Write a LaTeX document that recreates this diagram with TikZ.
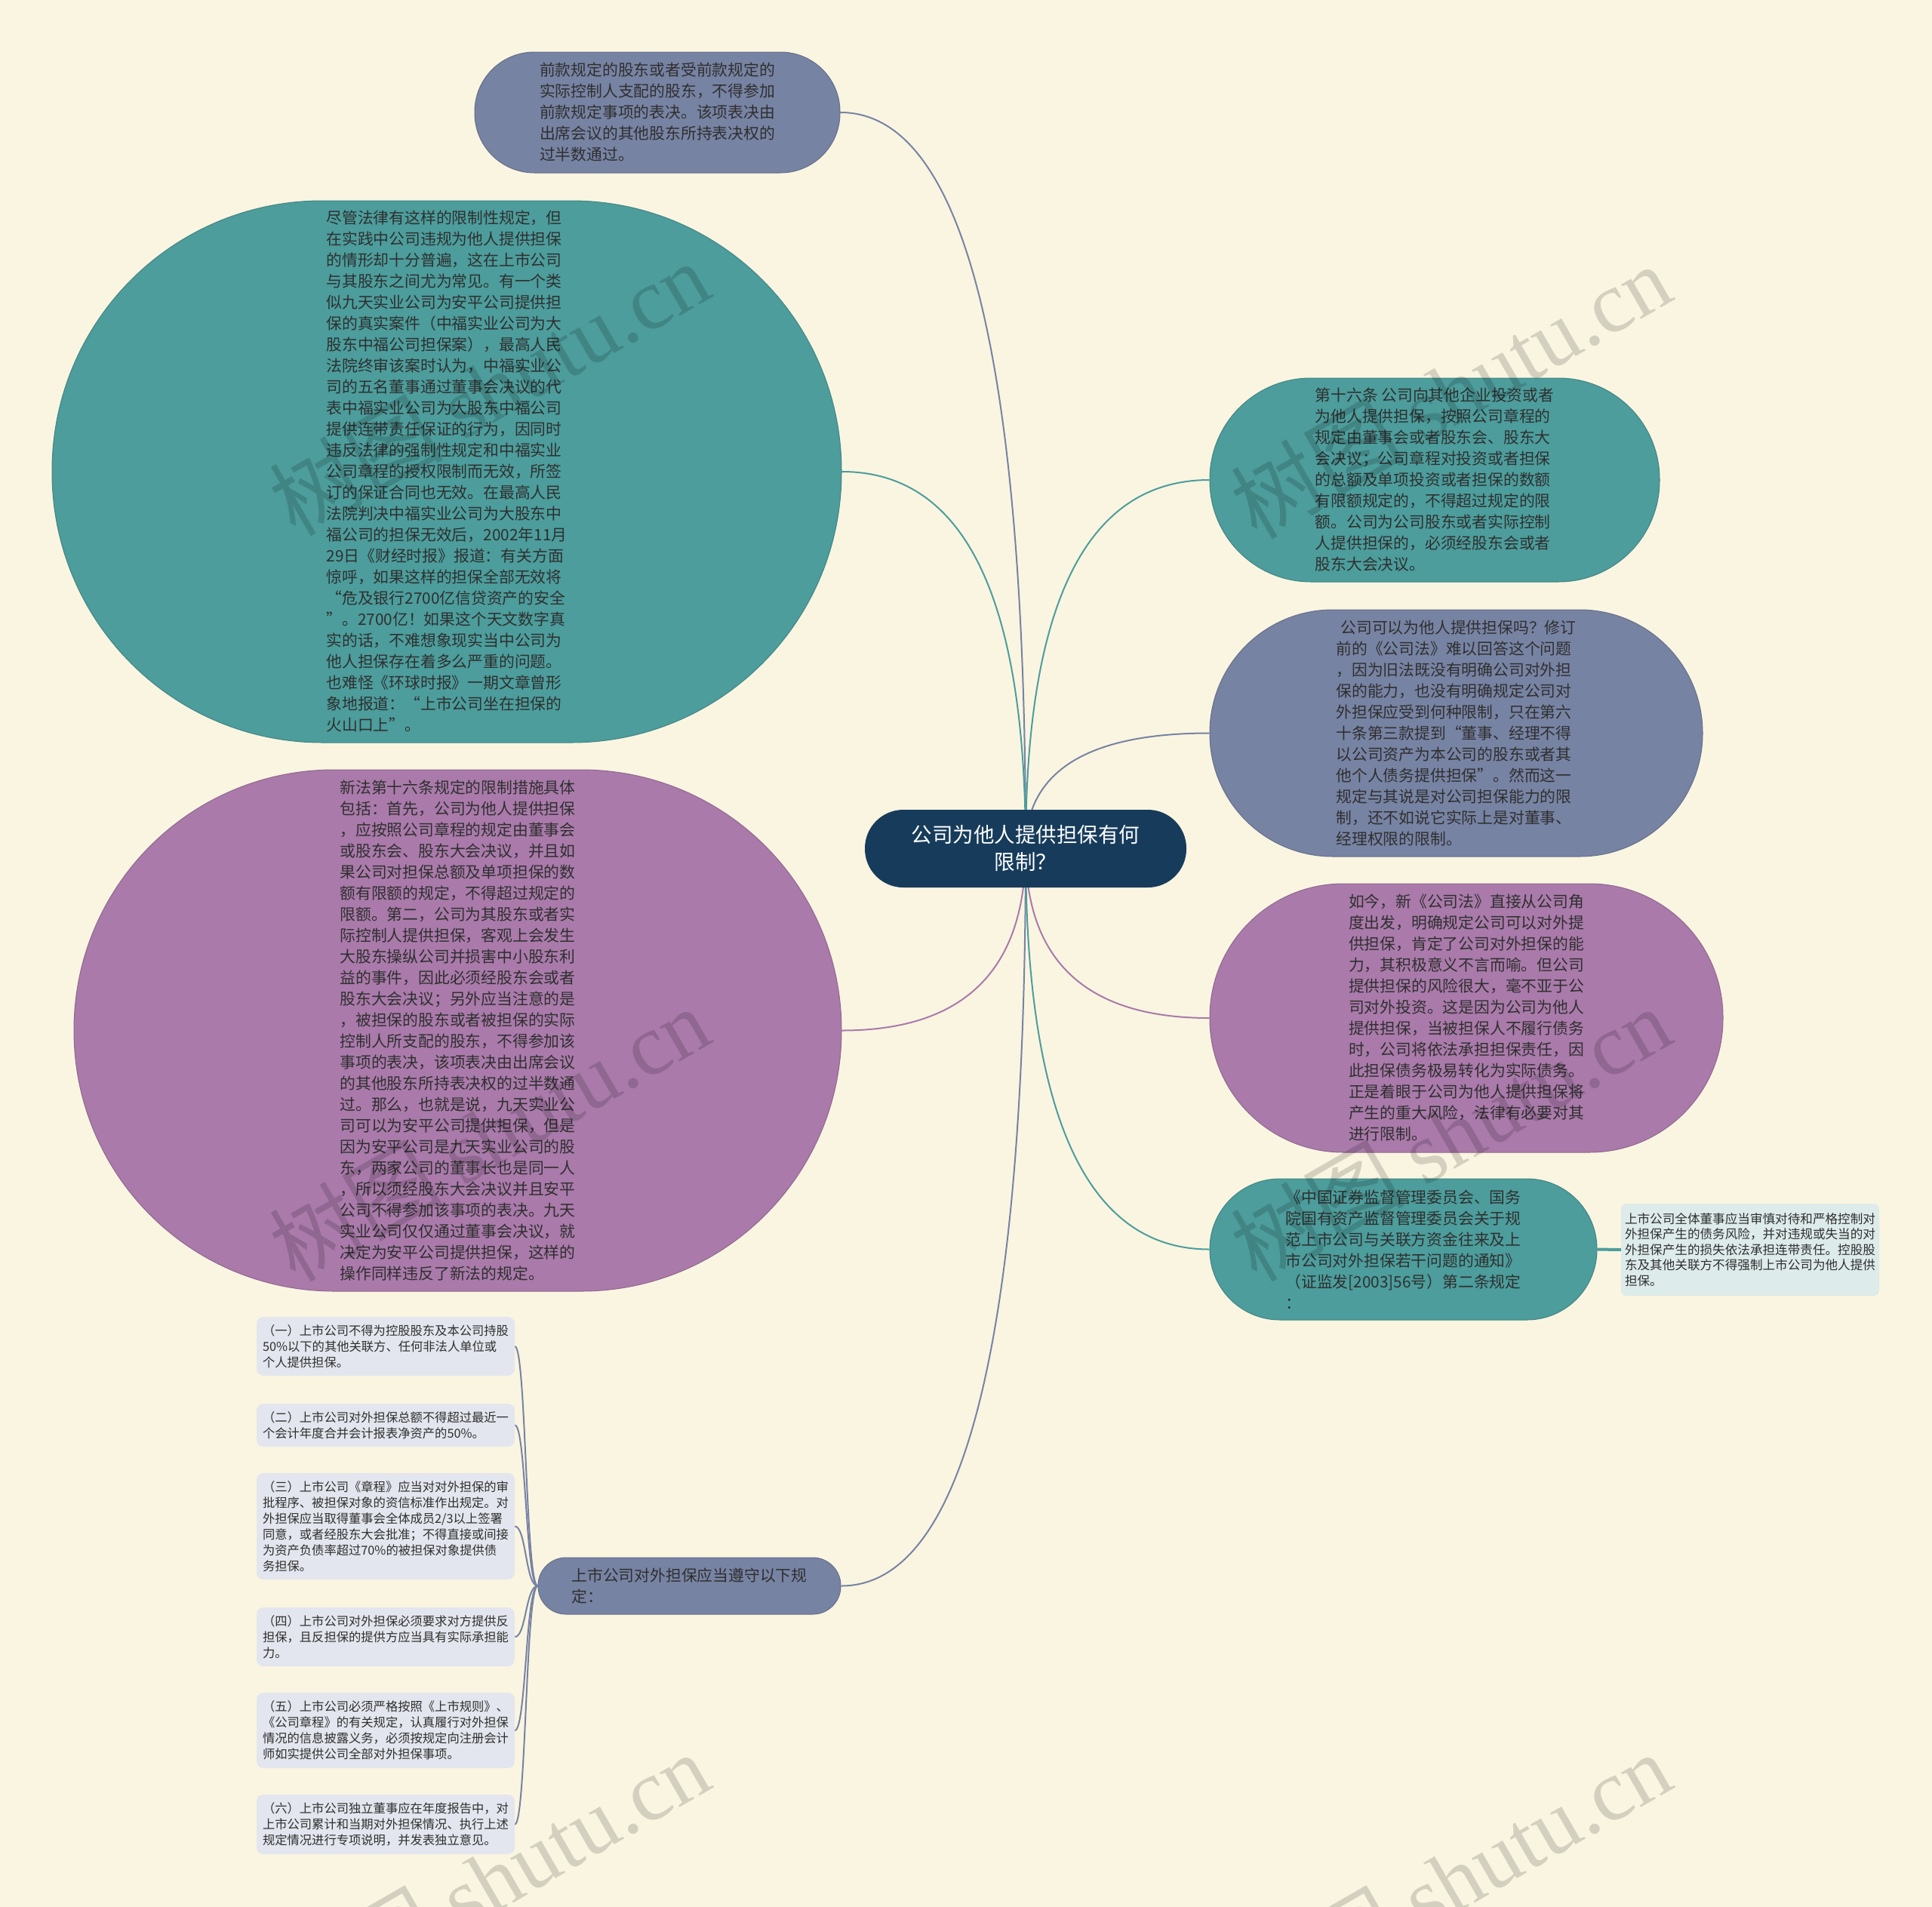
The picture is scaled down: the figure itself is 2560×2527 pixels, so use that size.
\documentclass[tikz,border=0pt]{standalone}
\usepackage{fontspec}
\setmainfont{Noto Sans CJK SC}
\newfontfamily\wmserif{Liberation Serif}
\usetikzlibrary{calc}
\pgfdeclarelayer{back}
\pgfsetlayers{back,main}
\definecolor{bgc}{HTML}{FAF5E1}
\definecolor{ctrc}{HTML}{173C5B}
\definecolor{tealc}{HTML}{4C9D9C}
\definecolor{slatec}{HTML}{7783A3}
\definecolor{purpc}{HTML}{A97AAA}
\definecolor{txtc}{HTML}{2F2F2F}
\definecolor{smallc}{HTML}{E3E6EE}
\definecolor{lightc}{HTML}{DDEBEA}
\tikzset{
  bub/.style={rectangle, align=left, text=txtc, inner sep=0pt, font=\fontsize{20.8pt}{28pt}\selectfont},
  tealb/.style={bub, fill=tealc, draw=tealc!85!black, line width=1pt},
  slateb/.style={bub, fill=slatec, draw=slatec!85!black, line width=1pt},
  purpb/.style={bub, fill=purpc, draw=purpc!85!black, line width=1pt},
  smallbox/.style={rectangle, rounded corners=9pt, fill=smallc, align=left, text=txtc, minimum width=342pt, inner sep=0pt, font=\fontsize{16.3pt}{21pt}\selectfont},
  conn/.style={line width=2pt},
  wm/.style={rotate=30, text=black, text opacity=0.15, font=\fontsize{115pt}{120pt}\selectfont}
}
\newcommand\mmconn[3]{\draw[conn,#1] (#2) .. controls ($(#2)!0.667!(#2 |- #3)$) and ($(#3)!0.667!(#2 |- #3)$) .. (#3);}
\newcommand\smconn[2]{\draw[conn,slatec] (#1) .. controls ($(#1)+(-16,0)$) and ($(#2)+(15,0)$) .. (#2);}
\begin{document}
\begin{tikzpicture}[x=1pt,y=-1pt]
\useasboundingbox (0,0) rectangle (2560,2527);
% center
\node[rectangle, fill=ctrc, text=white, rounded corners=51pt, minimum width=426pt, minimum height=103pt, align=center, inner sep=0pt, font=\fontsize{27.5pt}{36pt}\selectfont] (c) at (1359,1124.5) {公司为他人提供担保有何\\限制？};
% top
\node[slateb, minimum width=484pt, minimum height=160pt, rounded corners=79pt] (top) at (871,149) {前款规定的股东或者受前款规定的\\
实际控制人支配的股东，不得参加\\
前款规定事项的表决。该项表决由\\
出席会议的其他股东所持表决权的\\
过半数通过。};
% teal left
\node[tealb, minimum width=1046pt, minimum height=718pt, rounded corners=358pt] (tl) at (592,625) {尽管法律有这样的限制性规定，但\\
在实践中公司违规为他人提供担保\\
的情形却十分普遍，这在上市公司\\
与其股东之间尤为常见。有一个类\\
似九天实业公司为安平公司提供担\\
保的真实案件（中福实业公司为大\\
股东中福公司担保案），最高人民\\
法院终审该案时认为，中福实业公\\
司的五名董事通过董事会决议的代\\
表中福实业公司为大股东中福公司\\
提供连带责任保证的行为，因同时\\
违反法律的强制性规定和中福实业\\
公司章程的授权限制而无效，所签\\
订的保证合同也无效。在最高人民\\
法院判决中福实业公司为大股东中\\
福公司的担保无效后，2002年11月\\
29日《财经时报》报道：有关方面\\
惊呼，如果这样的担保全部无效将\\
“危及银行2700亿信贷资产的安全\\
”。2700亿！如果这个天文数字真\\
实的话，不难想象现实当中公司为\\
他人担保存在着多么严重的问题。\\
也难怪《环球时报》一期文章曾形\\
象地报道：“上市公司坐在担保的\\
火山口上”。};
% purple left
\node[purpb, minimum width=1017pt, minimum height=691pt, rounded corners=345pt] (pl) at (606.5,1365.5) {新法第十六条规定的限制措施具体\\
包括：首先，公司为他人提供担保\\
，应按照公司章程的规定由董事会\\
或股东会、股东大会决议，并且如\\
果公司对担保总额及单项担保的数\\
额有限额的规定，不得超过规定的\\
限额。第二，公司为其股东或者实\\
际控制人提供担保，客观上会发生\\
大股东操纵公司并损害中小股东利\\
益的事件，因此必须经股东会或者\\
股东大会决议；另外应当注意的是\\
，被担保的股东或者被担保的实际\\
控制人所支配的股东，不得参加该\\
事项的表决，该项表决由出席会议\\
的其他股东所持表决权的过半数通\\
过。那么，也就是说，九天实业公\\
司可以为安平公司提供担保，但是\\
因为安平公司是九天实业公司的股\\
东，两家公司的董事长也是同一人\\
，所以须经股东大会决议并且安平\\
公司不得参加该事项的表决。九天\\
实业公司仅仅通过董事会决议，就\\
决定为安平公司提供担保，这样的\\
操作同样违反了新法的规定。};
% right teal
\node[tealb, minimum width=596pt, minimum height=270pt, rounded corners=134pt] (rt) at (1901,636) {第十六条 公司向其他企业投资或者\\
为他人提供担保，按照公司章程的\\
规定由董事会或者股东会、股东大\\
会决议；公司章程对投资或者担保\\
的总额及单项投资或者担保的数额\\
有限额规定的，不得超过规定的限\\
额。公司为公司股东或者实际控制\\
人提供担保的，必须经股东会或者\\
股东大会决议。};
% right slate
\node[slateb, minimum width=653pt, minimum height=327pt, rounded corners=163pt] (rs) at (1929.5,971.5) {\hspace*{6pt}公司可以为他人提供担保吗？修订\\
前的《公司法》难以回答这个问题\\
，因为旧法既没有明确公司对外担\\
保的能力，也没有明确规定公司对\\
外担保应受到何种限制，只在第六\\
十条第三款提到“董事、经理不得\\
以公司资产为本公司的股东或者其\\
他个人债务提供担保”。然而这一\\
规定与其说是对公司担保能力的限\\
制，还不如说它实际上是对董事、\\
经理权限的限制。};
% right purple
\node[purpb, minimum width=680pt, minimum height=356pt, rounded corners=177pt] (rp) at (1943,1349) {如今，新《公司法》直接从公司角\\
度出发，明确规定公司可以对外提\\
供担保，肯定了公司对外担保的能\\
力，其积极意义不言而喻。但公司\\
提供担保的风险很大，毫不亚于公\\
司对外投资。这是因为公司为他人\\
提供担保，当被担保人不履行债务\\
时，公司将依法承担担保责任，因\\
此担保债务极易转化为实际债务。\\
正是着眼于公司为他人提供担保将\\
产生的重大风险，法律有必要对其\\
进行限制。};
% right teal bottom
\node[tealb, minimum width=513pt, minimum height=187pt, rounded corners=93pt] (rb) at (1859.5,1655.5) {《中国证券监督管理委员会、国务\\
院国有资产监督管理委员会关于规\\
范上市公司与关联方资金往来及上\\
市公司对外担保若干问题的通知》\\
（证监发[2003]56号）第二条规定\\
：};
% light box
\node[rectangle, rounded corners=7pt, fill=lightc, align=left, text=txtc, minimum width=342pt, minimum height=122pt, inner sep=0pt, font=\fontsize{16.6pt}{20.5pt}\selectfont] (lb) at (2319,1656) {上市公司全体董事应当审慎对待和严格控制对\\
外担保产生的债务风险，并对违规或失当的对\\
外担保产生的损失依法承担连带责任。控股股\\
东及其他关联方不得强制上市公司为他人提供\\
担保。};
% bottom node
\node[slateb, minimum width=401pt, minimum height=75pt, rounded corners=37pt] (bn) at (913.5,2101.5) {上市公司对外担保应当遵守以下规\\定：};
% small boxes
\node[smallbox, minimum height=78pt] (s1) at (511,1784) {（一）上市公司不得为控股股东及本公司持股\\
50\%以下的其他关联方、任何非法人单位或\\
个人提供担保。};
\node[smallbox, minimum height=57pt] (s2) at (511,1888.5) {（二）上市公司对外担保总额不得超过最近一\\
个会计年度合并会计报表净资产的50\%。};
\node[smallbox, minimum height=141pt] (s3) at (511,2022.5) {（三）上市公司《章程》应当对对外担保的审\\
批程序、被担保对象的资信标准作出规定。对\\
外担保应当取得董事会全体成员2/3以上签署\\
同意，或者经股东大会批准；不得直接或间接\\
为资产负债率超过70\%的被担保对象提供债\\
务担保。};
\node[smallbox, minimum height=78pt] (s4) at (511,2169) {（四）上市公司对外担保必须要求对方提供反\\
担保，且反担保的提供方应当具有实际承担能\\
力。};
\node[smallbox, minimum height=100pt] (s5) at (511,2293) {（五）上市公司必须严格按照《上市规则》、\\
《公司章程》的有关规定，认真履行对外担保\\
情况的信息披露义务，必须按规定向注册会计\\
师如实提供公司全部对外担保事项。};
\node[smallbox, minimum height=79pt] (s6) at (511,2417.5) {（六）上市公司独立董事应在年度报告中，对\\
上市公司累计和当期对外担保情况、执行上述\\
规定情况进行专项说明，并发表独立意见。};
% connectors
\begin{pgfonlayer}{back}
\fill[bgc] (0,0) rectangle (2560,2527);
\mmconn{slatec}{c.center}{top.east}
\mmconn{tealc}{c.center}{tl.east}
\mmconn{purpc}{c.center}{pl.east}
\mmconn{slatec}{c.center}{bn.east}
\mmconn{tealc}{c.center}{rt.west}
\mmconn{slatec}{c.center}{rs.west}
\mmconn{purpc}{c.center}{rp.west}
\mmconn{tealc}{c.center}{rb.west}
\draw[line width=4pt,tealc] (rb.east) -- (lb.west);
\smconn{bn.west}{s1.east}
\smconn{bn.west}{s2.east}
\smconn{bn.west}{s3.east}
\smconn{bn.west}{s4.east}
\smconn{bn.west}{s5.east}
\smconn{bn.west}{s6.east}
\end{pgfonlayer}
% watermarks
\node[wm] (w1) at (648,514) {树图 {\wmserif shutu.cn}};
\node[wm] (w2) at (1922,518) {树图 {\wmserif shutu.cn}};
\node[wm] (w3) at (648,1502) {树图 {\wmserif shutu.cn}};
\node[wm] (w4) at (1922,1502) {树图 {\wmserif shutu.cn}};
\node[wm] (w5) at (648,2490) {树图 {\wmserif shutu.cn}};
\node[wm] (w6) at (1922,2490) {树图 {\wmserif shutu.cn}};
\end{tikzpicture}
\end{document}
